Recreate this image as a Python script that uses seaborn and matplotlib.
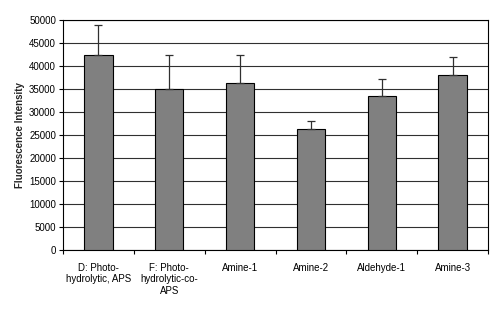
import matplotlib
matplotlib.use("Agg")
import matplotlib.pyplot as plt
import seaborn as sns
import pandas as pd
import numpy as np

categories = ["D: Photo-\nhydrolytic, APS", "F: Photo-\nhydrolytic-co-\nAPS",
              "Amine-1", "Amine-2", "Aldehyde-1", "Amine-3"]
values = [42300, 35000, 36150, 26200, 33500, 37950]
errors = [6500, 7400, 6250, 1700, 3600, 4000]

sns.set_theme(style="white")
plt.rcParams['font.family'] = ['Liberation Sans', 'DejaVu Sans']

fig, ax = plt.subplots(figsize=(5, 3.11), dpi=100)
fig.subplots_adjust(left=0.126, right=0.976, top=0.937, bottom=0.196)

df = pd.DataFrame({"cat": categories, "val": values})
sns.barplot(data=df, x="cat", y="val", color="#808080", saturation=1,
            edgecolor="black", linewidth=0.8, width=0.4, ax=ax, zorder=3)

xs = np.arange(len(categories))
ax.errorbar(xs, values, yerr=[np.zeros(len(values)), errors], fmt="none",
            ecolor="#303030", elinewidth=0.9, capsize=3, capthick=0.9, zorder=4)

ax.set_ylim(0, 50000)
ax.set_xlim(-0.5, len(categories) - 0.5)
ax.set_yticks(np.arange(0, 50001, 5000))
ax.yaxis.grid(True, color="#303030", linewidth=0.8, zorder=0)
ax.set_axisbelow(True)
ax.tick_params(axis="y", labelsize=7, length=3, width=0.8, color="black",
               left=True, pad=2, labelcolor="black")
ax.tick_params(axis="x", labelsize=7, length=0, pad=9, labelcolor="black")
ax.set_xticks(np.arange(-0.5, len(categories), 1.0), minor=True)
ax.tick_params(axis="x", which="minor", length=3, width=0.8, color="black", bottom=True)
ax.set_xlabel("")
ax.set_ylabel("Fluorescence Intensity", fontsize=7, fontweight="bold", labelpad=3)
for s in ax.spines.values():
    s.set_color("black")
    s.set_linewidth(0.8)

fig.savefig("out.png", dpi=100)
